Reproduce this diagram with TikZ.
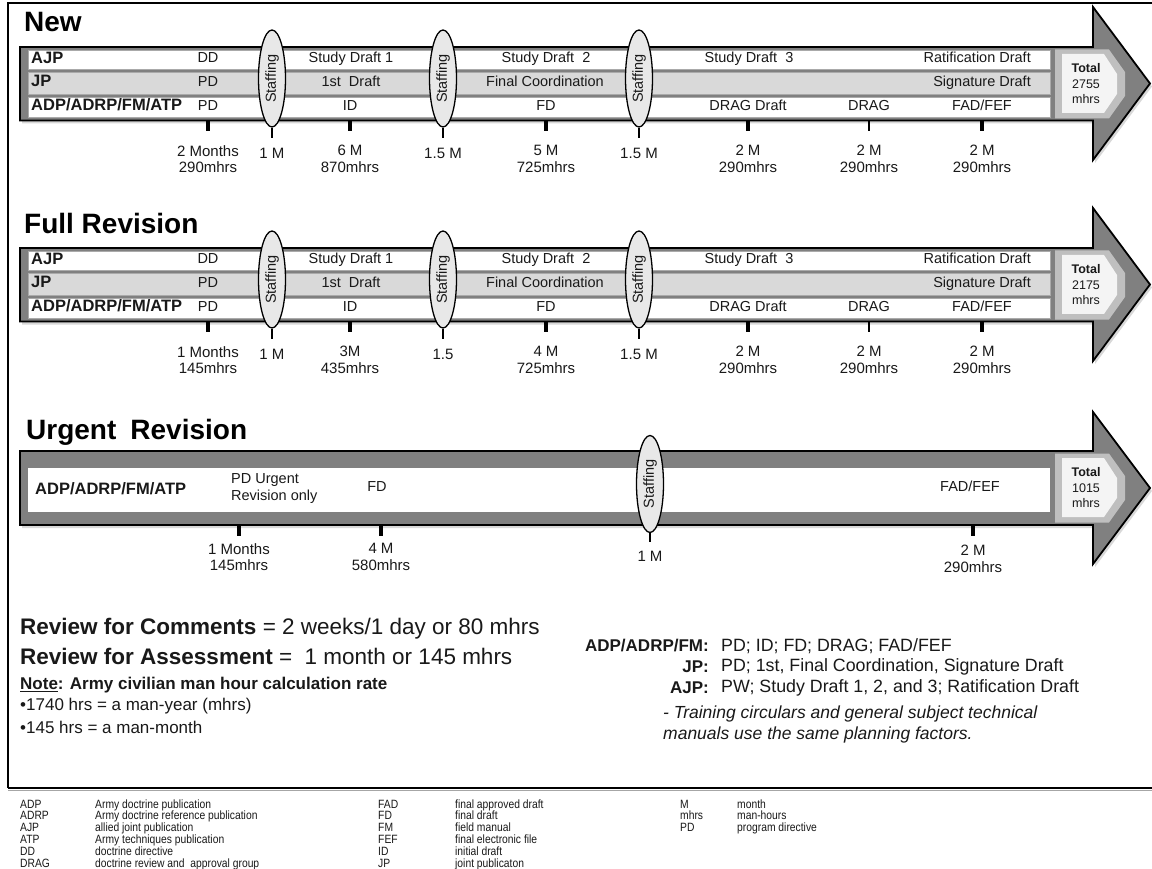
\documentclass[tikz,border=0pt]{standalone}
\usepackage{fontspec}
\setmainfont{Liberation Sans}
\newfontfamily\narrowfont[FakeStretch=0.86]{Liberation Sans}
\usetikzlibrary{shapes.geometric,shadows}
\definecolor{bodygray}{RGB}{128,128,128}
\definecolor{rowgray}{RGB}{217,217,217}
\definecolor{rimgray}{RGB}{170,170,170}
\definecolor{totring}{RGB}{191,191,191}
\definecolor{totfill}{RGB}{244,244,244}
\definecolor{staffill}{RGB}{232,232,232}
\definecolor{txt}{RGB}{25,25,25}
\tikzset{
  arrowshape/.style={fill=bodygray, draw=black, line width=1.8pt, line join=miter,
    drop shadow={shadow xshift=2pt, shadow yshift=-3pt, opacity=0.3}},
  roww/.style={fill=white, draw=rimgray, line width=0.8pt},
  rowg/.style={fill=rowgray, draw=rimgray, line width=0.8pt},
  totouter/.style={fill=totring},
  totinner/.style={fill=totfill},
  staff/.style={ellipse, draw=black, line width=1.3pt, fill=staffill, minimum width=97pt,
    minimum height=27pt, inner sep=0pt, rotate=90, font=\fontsize{14.5}{15}\selectfont},
  rt/.style={font=\fontsize{14.5}{16}\selectfont, inner sep=0pt, text height=10pt, text depth=3pt},
  rl/.style={font=\fontsize{16.5}{17}\selectfont\bfseries, inner sep=0pt, anchor=west, text height=11pt, text depth=3pt},
  tl/.style={font=\fontsize{15}{16.5}\selectfont, inner sep=0pt, align=center},
  thk/.style={line width=3.5pt},
  thn/.style={line width=1.3pt},
  ttl/.style={font=\fontsize{28}{30}\selectfont\bfseries, anchor=west, inner sep=0pt, text=black},
  tot/.style={font=\fontsize{12.5}{15.5}\selectfont, align=center, inner sep=0pt},
  bigtxt/.style={font=\fontsize{22.5}{24}\selectfont, anchor=west, inner sep=0pt},
  midtxt/.style={font=\fontsize{17}{19}\selectfont, inner sep=0pt},
  keytxt/.style={font=\fontsize{17}{19}\selectfont\bfseries, inner sep=0pt, anchor=east},
  valtxt/.style={font=\fontsize{17.8}{19}\selectfont, inner sep=0pt, anchor=west},
  lg/.style={font=\narrowfont\fontsize{12}{12}\selectfont, inner sep=0pt, anchor=base west},
}
\newcommand\threerows[8]{%
\begin{scope}[shift={(0,#2)}]
  \path[arrowshape] (20,47) -- (1093,47) -- (1093,7) -- (1150,83.5) -- (1093,160) -- (1093,120.5) -- (20,120.5) -- cycle;
  \path[roww] (28,50.5) rectangle (1050,69);
  \path[rowg] (28,72.5) rectangle (1050,94);
  \path[roww] (28,97.5) rectangle (1050,117);
  \path[totouter] (1055,49.5) -- (1109,49.5) -- (1125,72) -- (1125,96) -- (1109,118.5) -- (1055,118.5) -- cycle;
  \path[totinner] (1062,54) -- (1104,54) -- (1117,74) -- (1117,94) -- (1104,113) -- (1062,113) -- cycle;
  \node[ttl] (#1title) at (24,22) {#3};
  \node[rl] (#1ajp) at (31,59.5) {AJP};
  \node[rl] (#1jp) at (31,83) {JP};
  \node[rl] (#1adp) at (31,107) {ADP/ADRP/FM/ATP};
  \node[rt] (#1dd) at (208,59.5) {DD};
  \node[rt] (#1pdA) at (208,83) {PD};
  \node[rt] (#1pdB) at (208,107) {PD};
  \node[rt] (#1sdA) at (351,59.5) {Study Draft 1};
  \node[rt] (#1first) at (351,83) {1st\ \ Draft};
  \node[rt] (#1id) at (350,107) {ID};
  \node[rt] (#1sdB) at (546,59.5) {Study Draft\ \ 2};
  \node[rt] (#1fc) at (545,83) {Final Coordination};
  \node[rt] (#1fd) at (546,107) {FD};
  \node[rt] (#1sdC) at (749,59.5) {Study Draft\ \ 3};
  \node[rt] (#1dragd) at (748,107) {DRAG Draft};
  \node[rt, anchor=east] (#1rat) at (1031,59.5) {Ratification Draft};
  \node[rt, anchor=east] (#1sig) at (1031,83) {Signature Draft};
  \node[rt] (#1drag) at (869,107) {DRAG};
  \node[rt] (#1fad) at (982,107) {FAD/FEF};
  \node[staff] (#1sA) at (272,78.5) {Staffing};
  \node[staff] (#1sB) at (443,78.5) {Staffing};
  \node[staff] (#1sC) at (639,78.5) {Staffing};
  \foreach \xx in {208,350,546,748,982} \draw[thk] (\xx,120.5) -- (\xx,131);
  \draw[thn] (869,120.5) -- (869,131);
  \foreach \sn in {sA,sB,sC} \draw[thn] (#1\sn.west) -- ++(0,10);
  \node[tl] (#1mA) at (208,159) {#4};
  \node[tl] (#1mB) at (272,153) {1 M};
  \node[tl] (#1mC) at (350,159) {#5};
  \node[tl] (#1mD) at (443,153) {#6};
  \node[tl] (#1mE) at (546,159) {#7};
  \node[tl] (#1mF) at (639,153) {1.5 M};
  \node[tl] (#1mG) at (748,159) {2 M\\290mhrs};
  \node[tl] (#1mH) at (869,159) {2 M\\290mhrs};
  \node[tl] (#1mI) at (982,159) {2 M\\290mhrs};
  \node[tot] (#1tot) at (1086,84) {\textbf{Total}\\#8\\mhrs};
\end{scope}}
\begin{document}
\begin{tikzpicture}[x=1pt,y=-1pt, every node/.append style={text=txt}]
\useasboundingbox (0,0) rectangle (1152,869);
\fill[white] (0,0) rectangle (1152,869);
% frame
\draw[line width=2.5pt] (8,788) -- (8,3) -- (1152,3);
\draw[line width=2pt] (8,788) -- (1152,788);
\draw[black!35, line width=1.5pt] (8,790.5) -- (1152,790.5);

\threerows{n}{0}{New}{2 Months\\290mhrs}{6 M\\870mhrs}{1.5 M}{5 M\\725mhrs}{2755}
\threerows{f}{201}{Full Revision}{1 Months\\145mhrs}{3M\\435mhrs}{1.5}{4 M\\725mhrs}{2175}

% Urgent revision
\path[arrowshape] (20,451) -- (1093,451) -- (1093,412) -- (1150,488) -- (1093,564) -- (1093,525) -- (20,525) -- cycle;
\path[fill=white] (28,468) rectangle (1050,512);
\path[totouter] (1055,453.5) -- (1109,453.5) -- (1125,476) -- (1125,500) -- (1109,522.5) -- (1055,522.5) -- cycle;
\path[totinner] (1062,458) -- (1104,458) -- (1117,478) -- (1117,498) -- (1104,517) -- (1062,517) -- cycle;
\node[ttl] (utitle) at (26,432) {Urgent\hspace{0.5em}Revision};
\node[rl] (uadp) at (35,490) {ADP/ADRP/FM/ATP};
\node[rt, anchor=west, align=left, text height=, text depth=, font=\fontsize{14.5}{17}\selectfont] (upd) at (231,489) {PD Urgent\\Revision only};
\node[rt] (ufd) at (377,488) {FD};
\node[rt] (ufad) at (970,488) {FAD/FEF};
\node[staff] (us) at (650,484) {Staffing};
\foreach \xx in {239,381,973} \draw[thk] (\xx,525) -- (\xx,536);
\draw[thn] (us.west) -- ++(0,9);
\node[tl] (umA) at (239,557) {1 Months\\145mhrs};
\node[tl] (umB) at (381,557) {4 M\\580mhrs};
\node[tl] (umC) at (650,556) {1 M};
\node[tl] (umD) at (973,559) {2 M\\290mhrs};
\node[tot] (utot) at (1086,488) {\textbf{Total}\\1015\\mhrs};

% bottom notes
\node[bigtxt] (rc) at (20,629) {\textbf{Review for Comments} = 2 weeks/1 day or 80 mhrs};
\node[bigtxt] (ra) at (20,656) {\textbf{Review for Assessment} =\ \ 1 month or 145 mhrs};
\node[midtxt, anchor=west, font=\fontsize{17}{19}\selectfont\bfseries] (note) at (20,685) {\underline{Note}: Army civilian man hour calculation rate};
\node[midtxt, anchor=west] (b1) at (20,706) {•1740 hrs = a man-year (mhrs)};
\node[midtxt, anchor=west] (b2) at (20,727) {•145 hrs = a man-month};

\node[keytxt] (k1) at (709,646) {ADP/ADRP/FM:};
\node[valtxt] (v1) at (721,646) {PD; ID; FD; DRAG; FAD/FEF};
\node[keytxt] (k2) at (709,667) {JP:};
\node[valtxt] (v2) at (721,667) {PD; 1st, Final Coordination, Signature Draft};
\node[keytxt] (k3) at (709,688) {AJP:};
\node[valtxt] (v3) at (721,688) {PW; Study Draft 1, 2, and 3; Ratification Draft};
\node[midtxt, anchor=west, align=left, font=\fontsize{17.5}{21}\selectfont\itshape] (tc) at (663,724) {- Training circulars and general subject technical\\manuals use the same planning factors.};

% legend
\foreach \a/\d [count=\i from 0] in {ADP/Army doctrine publication, ADRP/Army doctrine reference publication, AJP/allied joint publication, ATP/Army techniques publication, DD/doctrine directive, DRAG/doctrine review and\ \ approval group}
  { \node[lg] (lga\i) at (20,808+11.9*\i) {\a}; \node[lg] (lgd\i) at (95,808+11.9*\i) {\d}; }
\foreach \a/\d [count=\i from 0] in {FAD/final approved draft, FD/final draft, FM/field manual, FEF/final electronic file, ID/initial draft, JP/joint publicaton}
  { \node[lg] (lgb\i) at (378,808+11.9*\i) {\a}; \node[lg] (lge\i) at (455,808+11.9*\i) {\d}; }
\foreach \a/\d [count=\i from 0] in {M/month, mhrs/man-hours, PD/program directive}
  { \node[lg] (lgc\i) at (680,808+11.9*\i) {\a}; \node[lg] (lgf\i) at (737,808+11.9*\i) {\d}; }
\end{tikzpicture}
\end{document}
